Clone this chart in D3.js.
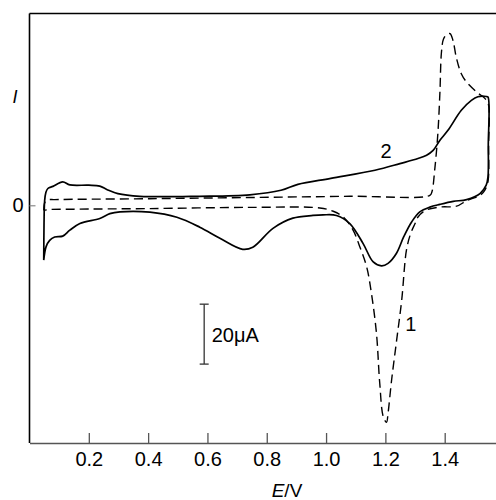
<!DOCTYPE html>
<html>
<head>
<meta charset="utf-8">
<script src="https://cdn.jsdelivr.net/npm/d3@7"></script>
<style>
  body { margin: 0; background: #fff; }
  text { font-family: "Liberation Sans", Arial, sans-serif; }
</style>
</head>
<body>
<div id="cv"></div>
<script>
const w = 496,
      h = 500;

// E in V, I in microamps
const curve2 = [
  [0.048, -18.3], [0.049, -6], [0.051, 1.5], [0.055, 4.2], [0.062, 5.6], [0.079, 6.3],
  [0.112, 7.8], [0.136, 6.8], [0.200, 6.7], [0.237, 6.4], [0.262, 5.2], [0.298, 3.9],
  [0.372, 3.0], [0.574, 3.0], [0.743, 3.5], [0.848, 5.0], [0.905, 7.0], [1.016, 9.0],
  [1.165, 11.7], [1.249, 13.9], [1.310, 15.6], [1.339, 16.7], [1.361, 18.3], [1.384, 21.7],
  [1.411, 25.0], [1.456, 31.7], [1.490, 35.0], [1.512, 36.2], [1.540, 36.3], [1.546, 36.1],
  [1.547, 20], [1.546, 9.5], [1.540, 6.7], [1.519, 3.9], [1.474, 1.9], [1.429, 1.3],
  [1.384, 0.3], [1.350, -0.6], [1.316, -2.2], [1.289, -5.5], [1.262, -10.5], [1.237, -16.1],
  [1.209, -19.4], [1.187, -20.2], [1.159, -18.9], [1.125, -12.8], [1.080, -6.1],
  [1.035, -3.4], [0.990, -3.2], [0.956, -3.4], [0.888, -4.3], [0.821, -7.7], [0.753, -14.0],
  [0.719, -14.7], [0.642, -11.0], [0.574, -7.3], [0.497, -4.0], [0.406, -2.3], [0.305, -2.2],
  [0.271, -2.8], [0.237, -4.4], [0.170, -6.1], [0.136, -8.3], [0.112, -10.3], [0.085, -10.6],
  [0.068, -11.7], [0.056, -13.8], [0.048, -18.3]
];

const curve1 = [
  [0.048, -1.7], [0.052, 1.0], [0.062, 1.8], [0.085, 1.9], [0.406, 2.2], [0.743, 2.6],
  [1.080, 3.0], [1.350, 3.3], [1.357, 4.5], [1.367, 12.5], [1.377, 24], [1.384, 38],
  [1.389, 51], [1.396, 55.5], [1.407, 57.0], [1.418, 57.3], [1.428, 55.0], [1.439, 49.4],
  [1.456, 43.9], [1.474, 41.1], [1.508, 37.8], [1.536, 35.6], [1.547, 33.9],
  [1.548, 20], [1.546, 8], [1.535, 5.0], [1.519, 3.3], [1.475, 1.6], [1.440, -0.3],
  [1.384, -0.6], [1.335, -1.7], [1.310, -3.9], [1.300, -6.1], [1.285, -9.5], [1.271, -15.0],
  [1.255, -31.7], [1.238, -45.0], [1.221, -58.3], [1.209, -69.4], [1.204, -72.4],
  [1.193, -70.6], [1.181, -59.4], [1.170, -42.8], [1.153, -29.4], [1.137, -20.6],
  [1.114, -13.9], [1.091, -8.3], [1.058, -3.9], [1.024, -2.0], [0.979, -0.9], [0.743, -0.7],
  [0.406, -1.1], [0.150, -1.3], [0.068, -1.4], [0.048, -1.7]
];

const xTicks = [0.2, 0.4, 0.6, 0.8, 1.0, 1.2, 1.4];
const yTicks = [0];
const curveLabels = [["2", 1.202, 15.7], ["1", 1.286, -42]];
const scaleBar = {e: 0.589, from: -33, to: -53, label: "20\u03bcA"};

const frame = {top: 13.5, left: 29.5, bottom: 443};

const svg = d3.select("#cv")
  .append("svg")
  .attr("width", w)
  .attr("height", h);

const x = d3.scaleLinear()
  .domain([0, 1.573])
  .range([frame.left, w]);

const y = d3.scaleLinear()
  .domain([-79.33, 64])
  .range([frame.bottom, frame.top]);

// frame: top and left lines
svg.append("line")
  .attr("x1", frame.left).attr("x2", w)
  .attr("y1", frame.top).attr("y2", frame.top)
  .attr("stroke", "#000").attr("stroke-width", 1.6);

svg.append("line")
  .attr("x1", frame.left).attr("x2", frame.left)
  .attr("y1", frame.top).attr("y2", frame.bottom)
  .attr("stroke", "#000").attr("stroke-width", 1.6);

let xAxis = d3.axisBottom(x)
  .tickValues(xTicks)
  .tickFormat(d3.format(".1f"))
  .tickSizeInner(-10)
  .tickSizeOuter(0)
  .tickPadding(9);

let xAxisGroup = svg.append("g")
  .attr("class", "x-axis")
  .attr("transform", "translate(0," + frame.bottom + ")")
  .call(xAxis);

xAxisGroup.select(".domain").attr("stroke", "#555").attr("stroke-width", 1.6);
xAxisGroup.selectAll(".tick line").attr("stroke", "#555").attr("stroke-width", 1.3);
xAxisGroup.selectAll("text")
  .attr("fill", "#000")
  .style("font-size", "20px");

let yAxis = d3.axisLeft(y)
  .tickValues(yTicks)
  .tickSizeInner(-6)
  .tickSizeOuter(0)
  .tickPadding(6);

let yAxisGroup = svg.append("g")
  .attr("class", "y-axis")
  .attr("transform", "translate(" + frame.left + ",0)")
  .call(yAxis);

yAxisGroup.select(".domain").remove();
yAxisGroup.selectAll(".tick line").attr("stroke", "#888").attr("stroke-width", 1.2);
yAxisGroup.selectAll("text")
  .attr("fill", "#000")
  .style("font-size", "20px");

// axis titles
svg.append("text")
  .attr("x", 15)
  .attr("y", 103)
  .attr("text-anchor", "middle")
  .style("font-size", "18px")
  .style("font-style", "italic")
  .text("I");

let xTitle = svg.append("text")
  .attr("x", 287)
  .attr("y", 497)
  .attr("text-anchor", "middle")
  .style("font-size", "19px");
xTitle.append("tspan").style("font-style", "italic").text("E");
xTitle.append("tspan").text("/V");

const line = d3.line()
  .x(d => x(d[0]))
  .y(d => y(d[1]))
  .curve(d3.curveCatmullRom.alpha(0.5));

svg.append("path")
  .datum(curve1)
  .attr("fill", "none")
  .attr("stroke", "#000")
  .attr("stroke-width", 1.4)
  .attr("stroke-dasharray", "9,5")
  .attr("d", line);

svg.append("path")
  .datum(curve2)
  .attr("fill", "none")
  .attr("stroke", "#000")
  .attr("stroke-width", 1.7)
  .attr("d", line);

svg.selectAll(".curve-label")
  .data(curveLabels)
  .enter()
  .append("text")
  .attr("class", "curve-label")
  .attr("x", d => x(d[1]))
  .attr("y", d => y(d[2]))
  .attr("text-anchor", "middle")
  .style("font-size", "20px")
  .text(d => d[0]);

// 20 uA scale bar
const sb = svg.append("g").attr("stroke", "#333").attr("stroke-width", 1.3);
sb.append("line")
  .attr("x1", x(scaleBar.e)).attr("x2", x(scaleBar.e))
  .attr("y1", y(scaleBar.from)).attr("y2", y(scaleBar.to));
[scaleBar.from, scaleBar.to].forEach(v => {
  sb.append("line")
    .attr("x1", x(scaleBar.e) - 4.5).attr("x2", x(scaleBar.e) + 4.5)
    .attr("y1", y(v)).attr("y2", y(v));
});

svg.append("text")
  .attr("x", x(scaleBar.e) + 7.5)
  .attr("y", 341.5)
  .style("font-size", "20px")
  .text(scaleBar.label);
</script>
</body>
</html>
